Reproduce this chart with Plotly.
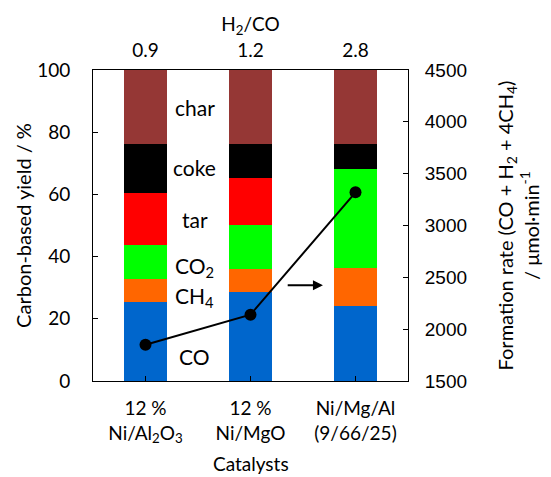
import plotly.graph_objects as go

categories = ["12 %<br>Ni/Al<sub>2</sub>O<sub>3</sub>", "12 %<br>Ni/MgO", "Ni/Mg/Al<br>(9/66/25)"]
h2_co = ["0.9", "1.2", "2.8"]
components = ["CO", "CH4", "CO2", "tar", "coke", "char"]
co = [25.4, 28.7, 24.1]
ch4 = [7.3, 7.2, 12.3]
co2 = [11.0, 14.3, 31.8]
tar = [16.7, 15.2, 0.0]
coke = [15.8, 10.8, 8.0]
char = [23.8, 23.8, 23.8]
formation_rate = [1850, 2140, 3320]

colors = ["#0066CC", "#FF6600", "#00FF00", "#FF0000", "#000000", "#953735"]
series = [co, ch4, co2, tar, coke, char]

xs = [0, 1, 2]
fig = go.Figure()
for name, vals, c in zip(components, series, colors):
    fig.add_trace(go.Bar(x=xs, y=vals, name=name, marker=dict(color=c, line=dict(width=0)),
                         width=0.41, showlegend=False))

fig.add_trace(go.Scatter(x=xs, y=formation_rate, yaxis="y2", mode="lines+markers",
                         line=dict(color="black", width=2), marker=dict(color="black", size=12),
                         showlegend=False))
# invisible trace to activate top axis
fig.add_trace(go.Scatter(x=xs, y=[None, None, None], xaxis="x2", showlegend=False))

cal = "Lato, Open Sans, sans-serif"
ari = "Liberation Sans, Arial, sans-serif"

fig.update_layout(
    barmode="stack",
    width=551, height=477,
    margin=dict(l=93, r=138, t=70, b=96),
    plot_bgcolor="white", paper_bgcolor="white",
    font=dict(family=cal, size=19, color="black"),
    xaxis=dict(range=[-0.5, 2.5], tickvals=xs, ticktext=categories, showline=True,
               linecolor="black", linewidth=1, mirror=False, ticks="inside", tickson="boundaries",
               ticklen=5, tickcolor="black", showgrid=False, zeroline=False,
               ticklabelstandoff=10, tickfont=dict(size=19)),
    xaxis2=dict(range=[-0.5, 2.5], overlaying="x", side="top", tickvals=xs, ticktext=h2_co,
                showline=True, linecolor="black", linewidth=1, ticks="", showgrid=False,
                zeroline=False, ticklabelstandoff=4,
                title=dict(text="H<sub>2</sub>/CO", standoff=0, font=dict(size=19)),
                tickfont=dict(size=19)),
    yaxis=dict(range=[0, 100], dtick=20, showline=True, linecolor="black", linewidth=1,
               ticks="inside", ticklen=5, tickcolor="black", showgrid=False, zeroline=False,
               ticklabelstandoff=18,
               title=dict(text="Carbon-based yield / %", standoff=0, font=dict(size=20)),
               tickfont=dict(size=19)),
    yaxis2=dict(range=[1500, 4500], dtick=500, overlaying="y", side="right", showline=True,
                linecolor="black", linewidth=1, ticks="inside", ticklen=5, tickcolor="black",
                showgrid=False, zeroline=False, ticklabelstandoff=12,
                tickfont=dict(family=ari, size=19),
                title=dict(text="Formation rate (CO + H<sub>2</sub> + 4CH<sub>4</sub>)<br>/ μmol·min<sup>-1</sup>",
                           font=dict(family=cal, size=20), standoff=32)),
)

# x-axis title placed below the two-line category labels
fig.add_annotation(x=0.5, y=-0.264, xref="paper", yref="paper", text="Catalysts",
                   showarrow=False, yanchor="middle", font=dict(family=cal, size=19, color="black"))

labels = ["char", "coke", "tar", "CO<sub>2</sub>", "CH<sub>4</sub>", "CO"]
label_y = [87.8, 68.5, 51.8, 36.7, 27.0, 8.0]
for t, y in zip(labels, label_y):
    fig.add_annotation(x=0.47, y=y, xref="x", yref="y", text=t, showarrow=False,
                       font=dict(family=cal, size=21, color="black"))

fig.add_annotation(x=1.69, y=2423, xref="x", yref="y2", ax=1.34, ay=2423, axref="x", ayref="y2",
                   text="", showarrow=True, arrowhead=2, arrowsize=1, arrowwidth=2, arrowcolor="black")

fig.write_html("out.html")
